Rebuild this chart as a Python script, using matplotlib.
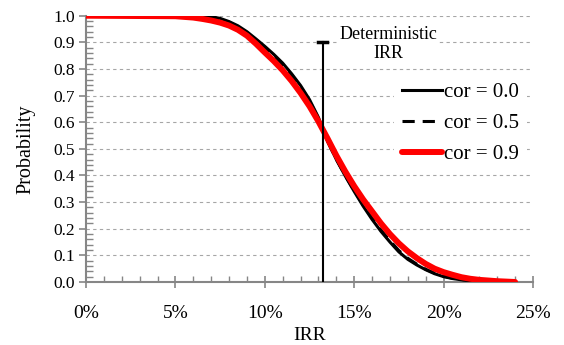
import numpy as np
import matplotlib
matplotlib.use("Agg")
import matplotlib.pyplot as plt
from matplotlib.ticker import MultipleLocator, FuncFormatter

plt.rcParams["font.family"] = ["Liberation Serif", "DejaVu Serif"]

# IRR grid (%) and probability
irr = [0, 5, 6, 6.5, 7, 7.5, 8, 8.5, 9, 9.5, 10, 10.5, 11, 11.5, 12, 12.5,
       13, 13.5, 14, 14.5, 15, 15.5, 16, 16.5, 17, 17.5, 18, 18.5, 19, 19.5,
       20, 20.5, 21, 21.5, 22, 23, 24]

cor_00 = [1.0, 1.0, 1.0, 0.999, 0.996, 0.99, 0.978, 0.962, 0.94, 0.913, 0.885,
          0.855, 0.822, 0.782, 0.738, 0.685, 0.618, 0.53, 0.46, 0.398, 0.34,
          0.285, 0.235, 0.19, 0.15, 0.113, 0.085, 0.064, 0.046, 0.031, 0.02,
          0.013, 0.008, 0.005, 0.003, 0.001, 0.0]

cor_05 = [1.0, 1.0, 1.0, 0.998, 0.994, 0.987, 0.975, 0.958, 0.936, 0.908, 0.88,
          0.85, 0.817, 0.777, 0.733, 0.68, 0.614, 0.53, 0.461, 0.4, 0.343,
          0.29, 0.24, 0.195, 0.155, 0.118, 0.089, 0.067, 0.048, 0.033, 0.022,
          0.014, 0.009, 0.006, 0.003, 0.001, 0.0]

cor_09 = [1.0, 0.998, 0.993, 0.988, 0.982, 0.974, 0.963, 0.947, 0.925, 0.895,
          0.862, 0.83, 0.795, 0.755, 0.71, 0.66, 0.603, 0.54, 0.475, 0.415, 0.36,
          0.31, 0.265, 0.22, 0.18, 0.145, 0.115, 0.09, 0.068, 0.05, 0.037,
          0.027, 0.018, 0.012, 0.008, 0.003, 0.0]

det_irr = 13.25
det_top = 0.9

fig = plt.figure(figsize=(5.64, 3.45), dpi=100)
ax = fig.add_axes([0.1525, 0.1826, 0.7925, 0.7719])

gray = "#868686"
ax.yaxis.grid(True, which="major", color="#a6a6a6", linestyle=(0, (3, 3)), linewidth=0.8)
ax.set_axisbelow(True)

ax.plot(irr, cor_00, color="black", lw=2.2, label="cor = 0.0", zorder=3)
ax.plot(irr, cor_05, color="black", lw=2.2, dashes=(4, 2.6), label="cor = 0.5", zorder=3)
ax.plot(irr, cor_09, color="#ff0000", lw=4.3, label="cor = 0.9", solid_capstyle="round", zorder=4)

# deterministic IRR marker
ax.plot([det_irr, det_irr], [0, det_top], color="black", lw=1.5, zorder=6)
ax.plot([det_irr - 0.25, det_irr + 0.25], [det_top, det_top], color="black", lw=2.5, zorder=6)
ax.text(16.9, 0.893, "Deterministic\nIRR", ha="center", va="center", fontsize=13,
        linespacing=1.15, zorder=5,
        bbox=dict(facecolor="white", edgecolor="none", pad=1.0))

ax.set_xlim(0, 25)
ax.set_ylim(0, 1.0)
ax.xaxis.set_major_locator(MultipleLocator(5))
ax.xaxis.set_minor_locator(MultipleLocator(1))
ax.yaxis.set_major_locator(MultipleLocator(0.1))
ax.yaxis.set_minor_locator(MultipleLocator(0.02))
ax.xaxis.set_major_formatter(FuncFormatter(lambda v, p: f"{v:.0f}%"))
ax.yaxis.set_major_formatter(FuncFormatter(lambda v, p: f"{v:.1f}"))

for s in ["top", "right"]:
    ax.spines[s].set_visible(False)
for s in ["left", "bottom"]:
    ax.spines[s].set_color(gray)
    ax.spines[s].set_linewidth(1.5)

ax.tick_params(axis="x", which="major", direction="inout", length=9, width=1.2,
               color=gray, labelsize=14, pad=12)
ax.tick_params(axis="x", which="minor", direction="in", length=4, width=1.0, color=gray)
ax.tick_params(axis="y", which="major", direction="out", length=5, width=1.2,
               color=gray, labelsize=12.5, pad=3)
ax.tick_params(axis="y", which="minor", direction="in", length=5, width=1.0, color=gray)

ax.set_xlabel("IRR", fontsize=14, labelpad=4)
ax.set_ylabel("Probability", fontsize=14.5, labelpad=13)

leg = ax.legend(loc="upper left", bbox_to_anchor=(0.665, 0.82), fontsize=15,
                frameon=True, fancybox=False, handlelength=1.9, handletextpad=0.1,
                labelspacing=0.55, borderpad=0.4)
leg.get_frame().set_edgecolor("none")
leg.get_frame().set_facecolor("white")
leg.get_frame().set_alpha(1)
leg.set_zorder(5)

fig.savefig("out.png", dpi=100)
